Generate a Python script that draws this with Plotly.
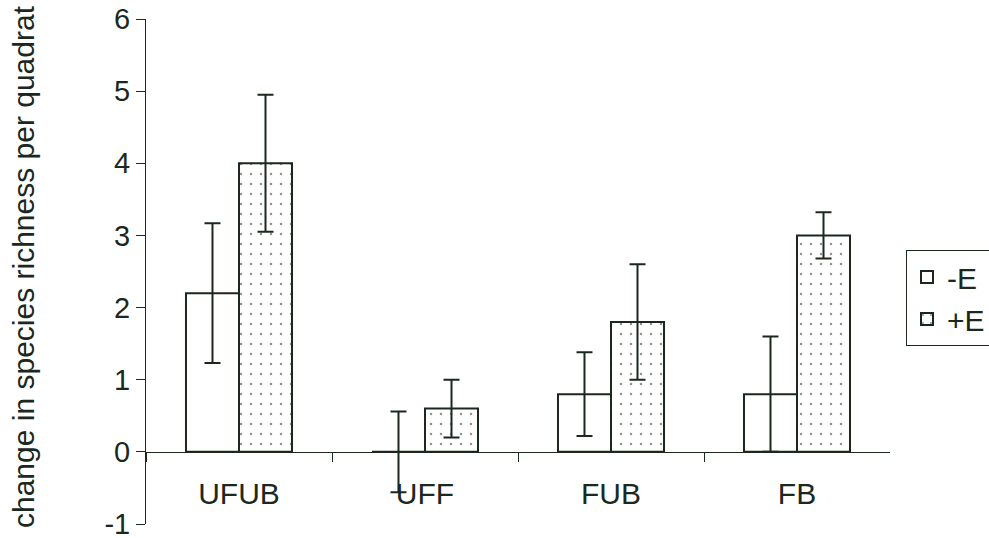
import plotly.graph_objects as go

categories = ["UFUB", "UFF", "FUB", "FB"]
minus_e = [2.2, 0.0, 0.8, 0.8]
minus_e_err = [0.97, 0.56, 0.58, 0.8]
plus_e = [4.0, 0.6, 1.8, 3.0]
plus_e_err = [0.95, 0.4, 0.8, 0.32]
y_ticks = [-1, 0, 1, 2, 3, 4, 5, 6]
y_tick_text = ["-1", "0", "1", "2", "3", "4", "5", "6"]

ink = "#1b281e"
font = "Liberation Sans, Arial, sans-serif"
W, H = 989, 538

fig = go.Figure()
fig.add_trace(go.Bar(
    name="-E", x=categories, y=minus_e,
    marker=dict(color="white", line=dict(color=ink, width=2)),
    error_y=dict(type="data", array=minus_e_err, visible=True, color=ink, thickness=2, width=8),
))
fig.add_trace(go.Bar(
    name="+E", x=categories, y=plus_e,
    marker=dict(color="white", line=dict(color=ink, width=2),
                pattern=dict(shape=".", fgcolor=ink, bgcolor="white", size=10, solidity=0.05)),
    error_y=dict(type="data", array=plus_e_err, visible=True, color=ink, thickness=2, width=8),
))

y0_frac = (H - 524) / H
y1_frac = (H - 19) / H
zero_pos = y0_frac + (y1_frac - y0_frac) / 7

fig.update_layout(
    width=W, height=H,
    margin=dict(l=0, r=0, t=0, b=0, autoexpand=False),
    paper_bgcolor="white", plot_bgcolor="white",
    barmode="group", bargap=0.43, bargroupgap=0,
    font=dict(family=font, size=30, color=ink),
    showlegend=True,
    legend=dict(x=906 / W, y=(H - 250) / H, xanchor="left", yanchor="top",
                bordercolor=ink, borderwidth=1, font=dict(size=30, color=ink),
                bgcolor="white", tracegroupgap=0),
    xaxis=dict(
        domain=[146 / W, 890 / W], automargin=False,
        anchor="free", position=zero_pos, showline=True, linecolor=ink, linewidth=1,
        ticks="outside", tickson="boundaries", ticklen=9, tickcolor=ink, tickwidth=1,
        ticklabelstandoff=15, showgrid=False, zeroline=False,
        tickfont=dict(size=30, color=ink), ticklabeloverflow="allow",
    ),
    yaxis=dict(
        domain=[y0_frac, y1_frac], automargin=False,
        range=[-1, 6], tickvals=y_ticks, ticktext=y_tick_text,
        showline=True, linecolor=ink, linewidth=1,
        ticks="outside", ticklen=9, tickcolor=ink, tickwidth=1, showgrid=False,
        zeroline=False, tickfont=dict(size=29, color=ink), ticklabelstandoff=0,
        ticklabeloverflow="allow",
    ),
    annotations=[dict(
        text="change in species richness per quadrat", textangle=-90,
        xref="paper", yref="paper", x=23 / W, y=(H - 267) / H,
        xanchor="center", yanchor="middle", showarrow=False,
        font=dict(size=30, color=ink, family=font),
    )],
)

fig.write_html("out.html", config={"displayModeBar": False},
               post_script="document.body.style.margin='0';document.body.style.overflow='hidden';")
